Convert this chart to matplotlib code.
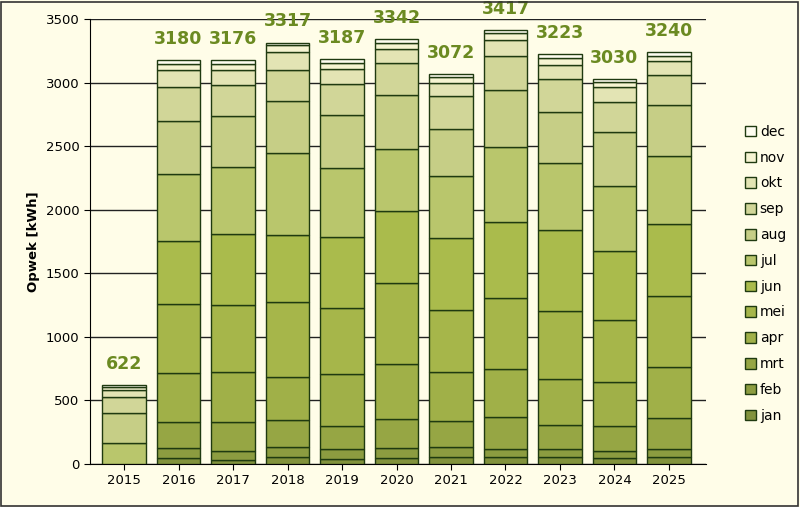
import numpy as np
import matplotlib.pyplot as plt

years = ['2015', '2016', '2017', '2018', '2019', '2020', '2021', '2022', '2023', '2024', '2025']
months = ['jan', 'feb', 'mrt', 'apr', 'mei', 'jun', 'jul', 'aug', 'sep', 'okt', 'nov', 'dec']
totals = [622, 3180, 3176, 3317, 3187, 3342, 3072, 3417, 3223, 3030, 3240]

y2015 = [0, 0, 0, 0, 0, 0, 168, 236, 126, 53, 26, 13]
y2016 = [45, 78, 205, 386, 541, 496, 530, 415, 268, 134, 49, 33]
y2017 = [31, 74, 223, 394, 528, 559, 525, 407, 241, 121, 44, 29]
y2018 = [58, 73, 215, 342, 583, 532, 648, 402, 250, 136, 58, 20]
y2019 = [37, 78, 187, 407, 517, 562, 538, 420, 247, 115, 47, 32]
y2020 = [50, 73, 229, 433, 638, 564, 491, 428, 249, 111, 47, 29]
y2021 = [58, 73, 210, 381, 486, 569, 486, 373, 257, 105, 44, 30]
y2022 = [58, 63, 246, 381, 557, 603, 586, 451, 268, 126, 52, 26]
y2023 = [52, 63, 192, 360, 535, 641, 525, 399, 262, 113, 53, 28]
y2024 = [47, 58, 194, 344, 491, 538, 517, 420, 237, 118, 39, 27]
y2025 = [52, 63, 245, 399, 559, 572, 536, 396, 239, 107, 40, 32]

data = np.array([y2015, y2016, y2017, y2018, y2019, y2020,
                 y2021, y2022, y2023, y2024, y2025])

colors = ['#82923c', '#8c9c40', '#96a644', '#a0b048', '#a6b64a', '#aabb4c',
          '#b9c66c', '#c6ce86', '#d1d698', '#e3e4b4', '#f6f4d2', '#fefdf0']

bg = '#fffde8'
fig = plt.figure(figsize=(8, 5.07), dpi=100, facecolor=bg)
ax = fig.add_axes([0.1125, 0.085, 0.77, 0.877], facecolor=bg)
fig.patches.append(plt.Rectangle((0.001, 0.001), 0.997, 0.996, transform=fig.transFigure,
                                 fill=False, edgecolor='#333333', lw=1.2))

x = np.arange(len(years))
bottom = np.zeros(len(years))
handles = []
for i, m in enumerate(months):
    h = ax.bar(x, data[:, i], 0.8, bottom=bottom, color=colors[i],
               edgecolor='#1f3a10', linewidth=1.0, label=m, zorder=3)
    handles.append(h)
    bottom += data[:, i]

for xi, t in zip(x, totals):
    ax.text(xi, t + 95, str(t), ha='center', va='bottom', fontsize=12.5,
            fontweight='bold', color='#6b8a21', zorder=4, clip_on=False)

ax.set_xlim(-0.625, len(years) - 0.32)
ax.set_ylim(0, 3500)
ax.set_yticks(np.arange(0, 3501, 500))
ax.yaxis.grid(True, color='#222222', lw=1.0, zorder=0)
ax.set_xticks(x)
ax.set_xticklabels(years)
ax.tick_params(labelsize=9.5, length=4)
ax.set_ylabel('Opwek [kWh]', fontsize=9.5, fontweight='bold')
for s in ['top', 'right']:
    ax.spines[s].set_visible(False)

fig.legend(handles[::-1], months[::-1], loc='center left', bbox_to_anchor=(0.915, 0.46),
           frameon=False, fontsize=10, handlelength=0.8, handleheight=0.8,
           labelspacing=0.85, handletextpad=0.3)

fig.savefig('out.png', dpi=100, facecolor=bg)
